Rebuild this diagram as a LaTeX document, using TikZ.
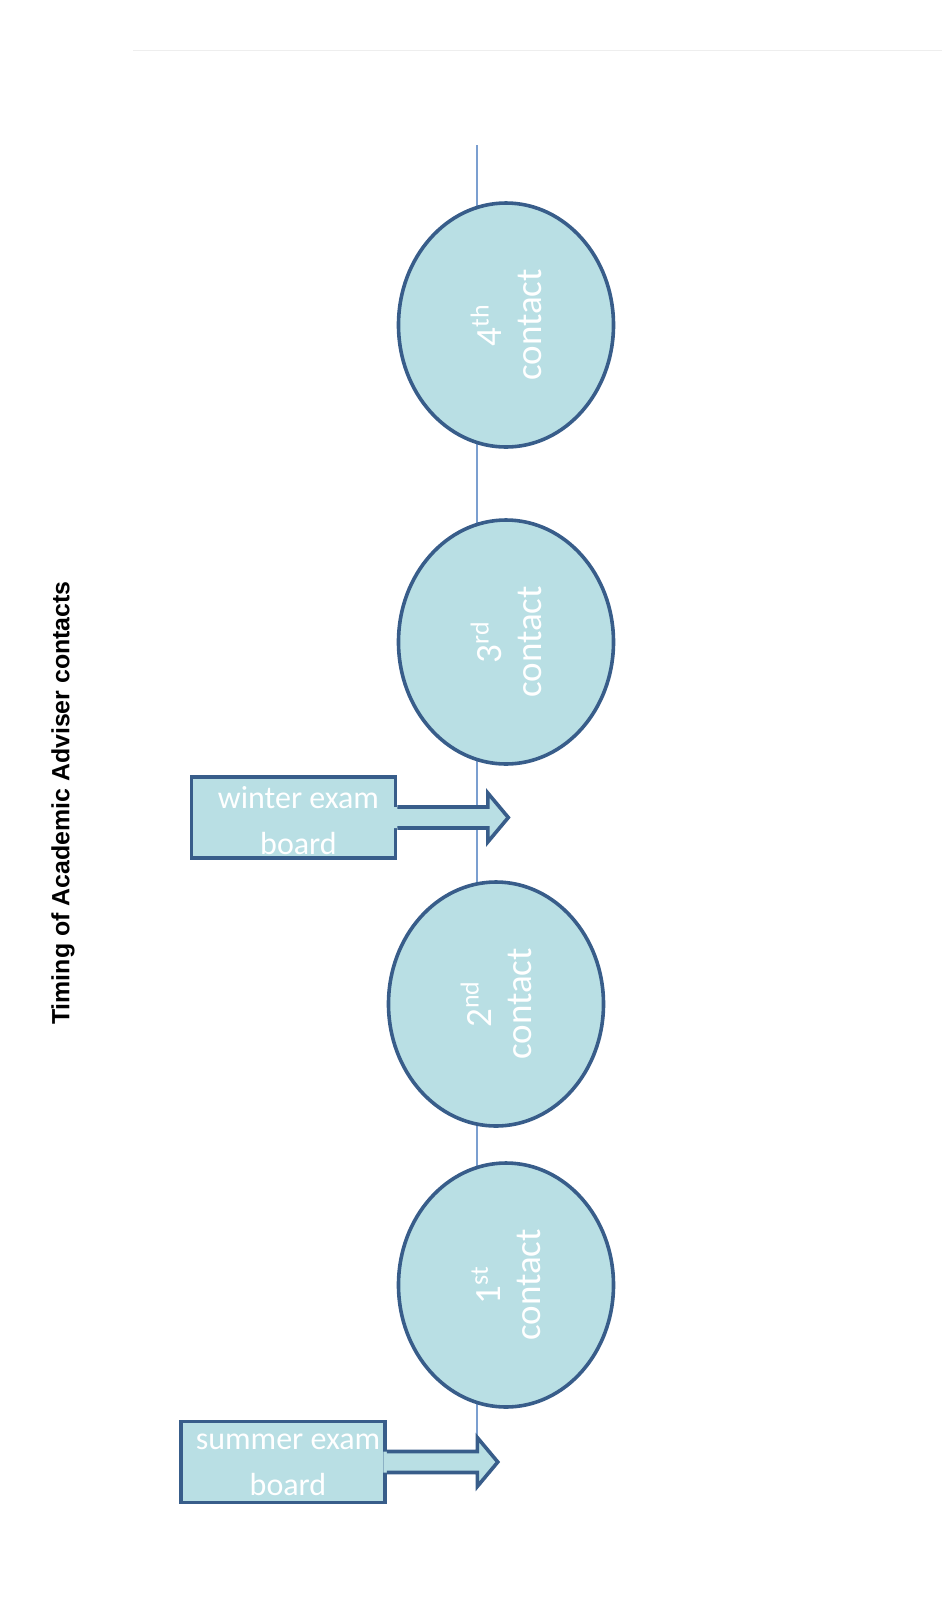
\documentclass[tikz,border=0pt]{standalone}
\usepackage{fontspec}
\usetikzlibrary{shapes.geometric}
\newfontfamily\calfont{Carlito}
\newfontfamily\arialfont{Liberation Sans}
\definecolor{Fc}{HTML}{B9DFE4}
\definecolor{Bc}{HTML}{385D8A}
\definecolor{Tc}{HTML}{7B9FD0}
\definecolor{faint}{HTML}{EEEEEE}
\tikzset{
  contact/.style={ellipse, draw=Bc, fill=Fc, line width=1.8pt, minimum width=122pt, minimum height=107.5pt, inner sep=0pt, rotate=90, text=white, align=center, font=\calfont\fontsize{18.5}{20}\selectfont},
  board/.style={rectangle, draw=Bc, fill=Fc, line width=1.8pt, minimum width=102pt, minimum height=40.5pt, inner sep=0pt},
  boardtext/.style={text=white, align=center, font=\calfont\fontsize{16}{23}\selectfont, xshift=2.5pt, yshift=-1.5pt},
  tline/.style={Tc, line width=0.7pt},
  title/.style={rotate=90, font=\arialfont\bfseries\fontsize{12.45}{15}\selectfont},
}
\newcommand{\boardarrow}[1]{%
  \fill[Fc] (#1.east) ++(-3.5,-10.5) -- ++(94,0) -- ++(0,-14) -- ++(20.5,24.5) -- ++(-20.5,24.5) -- ++(0,-14) -- ++(-94,0) -- cycle;
  \draw[Bc, line width=1.8pt, line join=miter] (#1.east) ++(0,-10.5) -- ++(90.5,0) -- ++(0,-14) -- ++(20.5,24.5) -- ++(-20.5,24.5) -- ++(0,-14) -- ++(-90.5,0);}
\begin{document}
\begin{tikzpicture}[x=0.5pt, y=-0.5pt]
  \useasboundingbox (0,0) rectangle (942,1603);
  % faint rule at the top
  \coordinate (ruleL) at (133,50);
  \coordinate (ruleR) at (942,50);
  \draw[faint, line width=0.5pt] (ruleL) -- (ruleR);
  % time line
  \coordinate (tTop) at (477,145);
  \coordinate (tBot) at (477,1444);
  \draw[tline] (tTop) -- (tBot);
  \node[title] (head) at (63,803) {Timing of Academic Adviser contacts};
  % contacts
  \node[contact] (c4) at (506,325) {4\textsuperscript{th}\\contact};
  \node[contact] (c3) at (506,642) {3\textsuperscript{rd}\\contact};
  \node[contact] (c2) at (496,1004) {2\textsuperscript{nd}\\contact};
  \node[contact] (c1) at (506,1285) {1\textsuperscript{st}\\contact};
  % exam boards
  \node[board, label={[boardtext]center:winter exam\\board}] (winter) at (293.5,817.5) {};
  \node[board, label={[boardtext]center:summer exam\\board}] (summer) at (283,1462) {};
  \boardarrow{winter}
  \boardarrow{summer}
\end{tikzpicture}
\end{document}
